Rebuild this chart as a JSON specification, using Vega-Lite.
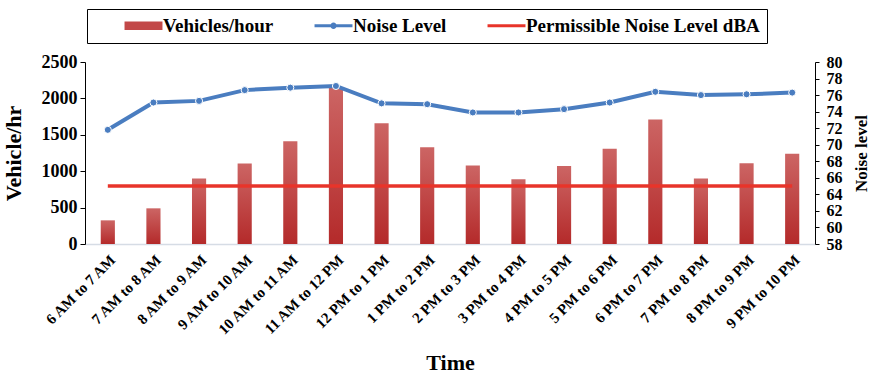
{
  "$schema": "https://vega.github.io/schema/vega-lite/v6.json",
  "width": 730,
  "height": 182,
  "autosize": {"type": "none"},
  "padding": {"left": 85, "top": 62, "right": 57, "bottom": 134},
  "background": "white",
  "config": {
    "view": {"stroke": null},
    "font": "Liberation Serif",
    "axis": {
      "grid": false,
      "labelFont": "Liberation Serif",
      "titleFont": "Liberation Serif",
      "labelFontWeight": "bold",
      "titleFontWeight": "bold",
      "labelColor": "#000",
      "titleColor": "#000"
    }
  },
  "data": {
    "values": [
      {"time": "6 AM to 7 AM", "vehicles": 325, "noise": 71.8, "limit": 65},
      {"time": "7 AM to 8 AM", "vehicles": 490, "noise": 75.1, "limit": 65},
      {"time": "8 AM to 9 AM", "vehicles": 900, "noise": 75.3, "limit": 65},
      {"time": "9 AM to 10 AM", "vehicles": 1105, "noise": 76.6, "limit": 65},
      {"time": "10 AM to 11 AM", "vehicles": 1410, "noise": 76.9, "limit": 65},
      {"time": "11 AM to 12 PM", "vehicles": 2150, "noise": 77.1, "limit": 65},
      {"time": "12 PM to 1 PM", "vehicles": 1660, "noise": 75.0, "limit": 65},
      {"time": "1 PM to 2 PM", "vehicles": 1330, "noise": 74.9, "limit": 65},
      {"time": "2 PM to 3 PM", "vehicles": 1080, "noise": 73.9, "limit": 65},
      {"time": "3 PM to 4 PM", "vehicles": 890, "noise": 73.9, "limit": 65},
      {"time": "4 PM to 5 PM", "vehicles": 1070, "noise": 74.3, "limit": 65},
      {"time": "5 PM to 6 PM", "vehicles": 1310, "noise": 75.1, "limit": 65},
      {"time": "6 PM to 7 PM", "vehicles": 1710, "noise": 76.4, "limit": 65},
      {"time": "7 PM to 8 PM", "vehicles": 900, "noise": 76.0, "limit": 65},
      {"time": "8 PM to 9 PM", "vehicles": 1110, "noise": 76.1, "limit": 65},
      {"time": "9 PM to 10 PM", "vehicles": 1240, "noise": 76.3, "limit": 65}
    ]
  },
  "encoding": {
    "x": {
      "field": "time",
      "type": "nominal",
      "sort": null,
      "scale": {"paddingInner": 0.69, "paddingOuter": 0.345},
      "axis": {
        "title": "Time",
        "titleFontSize": 22,
        "titlePadding": 14,
        "labelAngle": -45,
        "labelFontSize": 15,
        "labelPadding": 8,
        "ticks": false,
        "domainColor": "#d6dce5",
        "domainWidth": 1.5
      }
    }
  },
  "layer": [
    {
      "mark": {
        "type": "bar",
        "fill": {
          "gradient": "linear",
          "x1": 0, "y1": 0, "x2": 0, "y2": 1,
          "stops": [
            {"offset": 0, "color": "#cc6564"},
            {"offset": 1, "color": "#b42a2a"}
          ]
        }
      },
      "encoding": {
        "y": {
          "field": "vehicles",
          "type": "quantitative",
          "scale": {"domain": [0, 2500]},
          "axis": {
            "orient": "left",
            "values": [0, 500, 1000, 1500, 2000, 2500],
            "format": "d",
            "title": "Vehicle/hr",
            "titleFontSize": 22,
            "titlePadding": 16,
            "labelFontSize": 18,
            "labelPadding": 3,
            "tickSize": 5,
            "domainColor": "#000",
            "tickColor": "#000"
          }
        }
      }
    },
    {
      "layer": [
        {
          "mark": {"type": "line", "strokeWidth": 3.5},
          "encoding": {
            "y": {
              "field": "limit",
              "type": "quantitative",
              "scale": {"domain": [58, 80]},
              "axis": {
                "orient": "right",
                "values": [58, 60, 62, 64, 66, 68, 70, 72, 74, 76, 78, 80],
                "title": "Noise level",
                "titleFontSize": 17,
                "titleAngle": 270,
                "titleBaseline": "top",
                "titlePadding": 11,
                "labelFontSize": 16,
                "labelOverlap": false,
                "labelPadding": 7,
                "tickSize": 4,
                "domainColor": "#000",
                "tickColor": "#000"
              }
            },
            "color": {"datum": "Permissible Noise Level dBA", "type": "nominal"}
          }
        },
        {
          "mark": {
            "type": "line",
            "strokeWidth": 4,
            "point": {"filled": true, "size": 50, "stroke": "white", "strokeWidth": 1}
          },
          "encoding": {
            "y": {
              "field": "noise",
              "type": "quantitative",
              "scale": {"domain": [58, 80]},
              "axis": {
                "orient": "right",
                "values": [58, 60, 62, 64, 66, 68, 70, 72, 74, 76, 78, 80],
                "title": "Noise level",
                "titleFontSize": 17,
                "titleAngle": 270,
                "titleBaseline": "top",
                "titlePadding": 11,
                "labelFontSize": 16,
                "labelOverlap": false,
                "labelPadding": 7,
                "tickSize": 4,
                "domainColor": "#000",
                "tickColor": "#000"
              }
            },
            "color": {
              "datum": "Noise Level",
              "type": "nominal",
              "scale": {
                "domain": ["Vehicles/hour", "Noise Level", "Permissible Noise Level dBA"],
                "range": ["#c24848", "#4a7dc0", "#e8342a"]
              },
              "legend": {
                "orient": "none",
                "legendX": 2,
                "legendY": -53,
                "direction": "horizontal",
                "title": null,
                "strokeColor": "#000",
                "padding": 7,
                "labelFont": "Liberation Serif",
                "labelFontWeight": "bold",
                "labelFontSize": 19,
                "labelColor": "#000",
                "labelLimit": 400,
                "symbolSize": 196,
                "symbolOffset": 40,
                "labelOffset": 10,
                "columnPadding": 10,
                "encode": {
                  "symbols": {
                    "update": {
                      "shape": {"signal": "datum.value == 'Vehicles/hour' ? 'M-2.71,-0.62H2.71V0.62H-2.71Z' : datum.value == 'Noise Level' ? 'M-2.71,-0.23H2.71V0.23H-2.71Z M0.45,0A0.45,0.45 0 1,1 -0.45,0A0.45,0.45 0 1,1 0.45,0Z' : 'M-2.71,-0.23H2.71V0.23H-2.71Z'"},
                      "fill": {"scale": "color", "field": "value"},
                      "stroke": {"value": "transparent"},
                      "strokeWidth": {"value": 0},
                      "opacity": {"value": 1},
                      "size": {"value": 196}
                    }
                  }
                }
              }
            }
          }
        }
      ]
    }
  ],
  "resolve": {"scale": {"y": "independent"}}
}
